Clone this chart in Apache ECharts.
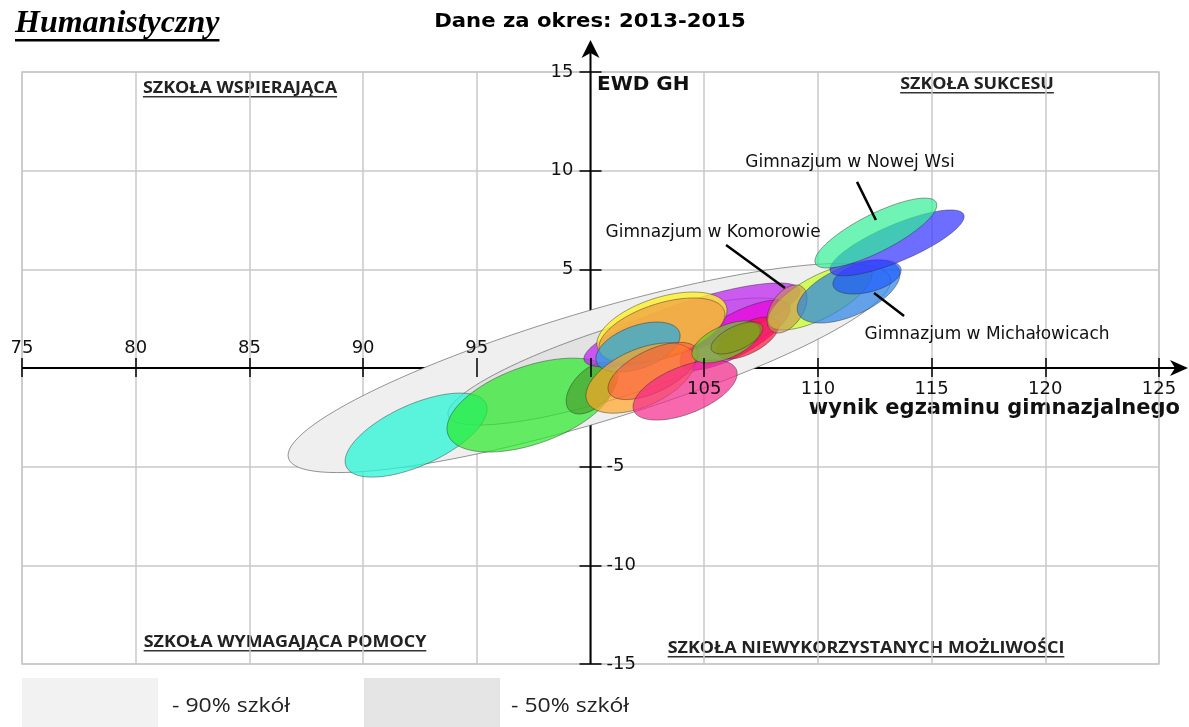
<!DOCTYPE html>
<html>
<head>
<meta charset="utf-8">
<title>Humanistyczny - EWD GH</title>
<script src="https://cdn.jsdelivr.net/npm/echarts@6/dist/echarts.min.js"></script>
<style>
  html, body { margin: 0; padding: 0; background: #fff; }
  #main { width: 1189px; height: 727px; }
</style>
</head>
<body>
<div id="main"></div>
<script>
// zakres osi
const xMin = 75, xMax = 125, xStep = 5;
const yMin = -15, yMax = 15, yStep = 5;
const crossX = 100; // oś EWD przecina oś wyników w 100

// elipsy (środek, promień w osi x, promień w osi y, korelacja)
const ellipseNames = [
  '90% szkół', '50% szkół',
  'e1', 'e2', 'e3', 'e4', 'e5', 'e6', 'e7', 'e8', 'e9', 'e10',
  'e11', 'e12', 'e13', 'e14', 'e15', 'Gimnazjum w Komorowie', 'Gimnazjum w Michałowicach',
  'e19', 'e20', 'Gimnazjum w Nowej Wsi'
];
const centerX = [99.95, 101.25, 92.33, 97.38, 100.07, 104.46, 106.35, 103.14, 103.14, 102.09, 102.20,
  102.75, 104.16, 106.93, 105.96, 106.44, 110.09, 108.64, 111.35, 112.16, 113.48, 112.55];
const centerY = [0.00, 0.33, -3.40, -1.88, -1.01, 2.18, 1.67, 2.08, 1.88, 1.06, -0.51,
  -0.15, -1.12, 1.52, 1.32, 1.52, 3.60, 2.99, 3.88, 4.61, 6.34, 6.84];
const radiusX = [13.25, 7.52, 3.12, 3.69, 1.14, 4.75, 2.42, 2.86, 2.77, 1.85, 2.40,
  1.98, 2.29, 1.36, 1.50, 1.14, 2.29, 0.88, 2.26, 1.50, 2.95, 2.68];
const radiusY = [5.30, 3.22, 2.13, 2.38, 1.32, 2.13, 1.77, 1.77, 1.67, 1.27, 1.78,
  1.45, 1.52, 1.06, 1.06, 0.81, 1.67, 1.22, 1.60, 0.86, 1.67, 1.77];
const corr = [0.835, 0.82, 0.62, 0.50, 0.50, 0.80, 0.75, 0.48, 0.50, 0.45, 0.50,
  0.60, 0.55, 0.60, 0.55, 0.60, 0.70, 0.45, 0.55, 0.40, 0.80, 0.80];

// kolory elips
const ellipseColors = [
  '#efefef', '#e2e2e2',
  'rgba(40,245,215,0.75)', 'rgba(40,235,40,0.7)', 'rgba(70,150,40,0.6)',
  'rgba(190,40,240,0.75)', 'rgba(235,0,220,0.7)', 'rgba(255,240,40,0.8)',
  'rgba(240,160,70,0.75)', 'rgba(30,170,230,0.7)', 'rgba(255,165,40,0.7)',
  'rgba(255,80,50,0.55)', 'rgba(245,40,140,0.7)', 'rgba(255,20,60,0.7)',
  'rgba(110,200,40,0.75)', 'rgba(130,150,20,0.6)', 'rgba(200,255,40,0.75)',
  'rgba(200,140,80,0.6)', 'rgba(40,130,230,0.7)', 'rgba(20,80,255,0.6)',
  'rgba(60,60,255,0.75)', 'rgba(50,240,150,0.7)'
];

// podpisy szkół i linie odniesienia
const noteNames = ['Gimnazjum w Nowej Wsi', 'Gimnazjum w Komorowie', 'Gimnazjum w Michałowicach'];
const noteLabelX = [111.41, 105.39, 117.44];
const noteLabelY = [10.39, 6.84, 1.67];
const noteFromX = [111.72, 105.96, 112.47];
const noteFromY = [9.43, 6.23, 3.80];
const noteToX = [112.55, 108.55, 113.79];
const noteToY = [7.50, 4.05, 2.64];

// legenda
const legendNames = ['- 90% szkół', '- 50% szkół'];

const gridBox = { left: 22, top: 72, width: 1137, height: 592 };

const chart = echarts.init(document.getElementById('main'));

const ellipseData = centerX.map((x, i) => [x, centerY[i], radiusX[i], radiusY[i], corr[i]]);
const noteData = noteNames.map((n, i) => [noteLabelX[i], noteLabelY[i], noteFromX[i], noteFromY[i], noteToX[i], noteToY[i]]);

const tickFont = { fontFamily: 'DejaVu Sans', fontSize: 18, color: '#111' };
const xOffset = -(0 - yMin) / (yMax - yMin) * gridBox.height;
const yOffset = -(crossX - xMin) / (xMax - xMin) * gridBox.width;

function baseX(extra) {
  return Object.assign({
    type: 'value', min: xMin, max: xMax, interval: xStep, gridIndex: 0,
    axisLine: { show: false }, splitLine: { show: false }
  }, extra);
}
function baseY(extra) {
  return Object.assign({
    type: 'value', min: yMin, max: yMax, interval: yStep, gridIndex: 0,
    axisLine: { show: false }, splitLine: { show: false }
  }, extra);
}

// pomiar szerokości tekstu (podkreślenia)
const mctx = document.createElement('canvas').getContext('2d');
function textWidth(text, font) {
  mctx.font = font;
  return mctx.measureText(text).width;
}

const quadFont = 'bold 16px "Open Sans"';
const quadScale = 1.12;
const quadLabels = [
  { text: 'SZKOŁA WSPIERAJĄCA', x: 240, y: 88 },
  { text: 'SZKOŁA SUKCESU', x: 977, y: 84 },
  { text: 'SZKOŁA WYMAGAJĄCA POMOCY', x: 285, y: 642 },
  { text: 'SZKOŁA NIEWYKORZYSTANYCH MOŻLIWOŚCI', x: 866, y: 648 }
];

const graphics = [];
const titleFont = 'italic bold 32px "Liberation Serif"';
graphics.push({
  type: 'text', left: 15, top: 8,
  style: { text: 'Humanistyczny', font: titleFont, fill: '#000' }
});
graphics.push({
  type: 'rect', shape: { x: 15, y: 39, width: textWidth('Humanistyczny', titleFont), height: 2.5 },
  style: { fill: '#000' }
});
graphics.push({
  type: 'text', x: 590, y: 22, scaleX: 1.06,
  style: { text: 'Dane za okres: 2013-2015', font: 'bold 20px "DejaVu Sans"', fill: '#000',
    textAlign: 'center', textVerticalAlign: 'middle' }
});
graphics.push({
  type: 'text', x: 597, y: 85,
  style: { text: 'EWD GH', font: 'bold 20px "DejaVu Sans"', fill: '#111', textVerticalAlign: 'middle' }
});
graphics.push({
  type: 'text', x: 1180, y: 409,
  style: { text: 'wynik egzaminu gimnazjalnego', font: 'bold 21px "DejaVu Sans"', fill: '#111',
    textAlign: 'right', textVerticalAlign: 'middle' }
});
quadLabels.forEach(q => {
  const w = textWidth(q.text, quadFont) * quadScale;
  graphics.push({
    type: 'text', x: q.x, y: q.y, scaleX: quadScale,
    style: { text: q.text, font: quadFont, fill: '#222', textAlign: 'center', textVerticalAlign: 'middle' }
  });
  graphics.push({
    type: 'rect', shape: { x: q.x - w / 2, y: q.y + 8, width: w, height: 1.5 },
    style: { fill: '#333' }
  });
});
// legenda
graphics.push({ type: 'rect', shape: { x: 22, y: 678, width: 136, height: 49 }, style: { fill: '#f2f2f2' } });
graphics.push({ type: 'rect', shape: { x: 364, y: 678, width: 136, height: 49 }, style: { fill: '#e5e5e5' } });
graphics.push({ type: 'text', x: 172, y: 706, scaleX: 1.15,
  style: { text: legendNames[0], font: '20px "Open Sans"', fill: '#222', textVerticalAlign: 'middle' } });
graphics.push({ type: 'text', x: 511, y: 706, scaleX: 1.15,
  style: { text: legendNames[1], font: '20px "Open Sans"', fill: '#222', textVerticalAlign: 'middle' } });

chart.setOption({
  animation: false,
  backgroundColor: '#fff',
  grid: Object.assign({ show: true, borderColor: '#c8c8c8', borderWidth: 1.5, outerBoundsMode: 'none' }, gridBox),
  xAxis: [
    baseX({ axisTick: { show: false }, axisLabel: { show: false },
      splitLine: { show: true, lineStyle: { color: '#c8c8c8', width: 1.5 } } }),
    baseX({ position: 'bottom', offset: xOffset, z: 5,
      axisTick: { show: true, length: 9, lineStyle: { color: '#000', width: 1.5 } },
      axisLabel: Object.assign({ margin: 12, formatter: v => (v > crossX ? String(v) : '') }, tickFont) }),
    baseX({ position: 'bottom', offset: xOffset, z: 5,
      axisTick: { show: true, inside: true, length: 10, lineStyle: { color: '#000', width: 1.5 } },
      axisLabel: Object.assign({ inside: true, margin: 11, formatter: v => (v < crossX ? String(v) : '') }, tickFont) })
  ],
  yAxis: [
    baseY({ axisTick: { show: false }, axisLabel: { show: false },
      splitLine: { show: true, lineStyle: { color: '#c8c8c8', width: 1.5 } } }),
    baseY({ position: 'left', offset: yOffset,
      axisTick: { show: true, length: 11, lineStyle: { color: '#000', width: 1.5 } },
      axisLabel: Object.assign({ margin: 17, formatter: v => (v > 0 ? String(v) : '') }, tickFont) }),
    baseY({ position: 'left', offset: yOffset,
      axisTick: { show: true, inside: true, length: 11, lineStyle: { color: '#000', width: 1.5 } },
      axisLabel: Object.assign({ inside: true, margin: 16, formatter: v => (v < 0 ? String(v) : '') }, tickFont) })
  ],
  graphic: graphics,
  series: [
    {
      // osie ze strzałkami
      type: 'custom', name: 'osie', z: 1, clip: false, silent: true,
      data: [[crossX, 0]],
      renderItem: function (params, api) {
        const l = api.coord([xMin, 0]);
        const r = api.coord([xMax, 0]);
        const b = api.coord([api.value(0), yMin]);
        const t = api.coord([api.value(0), yMax]);
        const xe = r[0] + 29, ye = t[1] - 32, yl = l[1], xl = b[0];
        const ls = { stroke: '#000', lineWidth: 2 };
        return {
          type: 'group', children: [
            { type: 'line', shape: { x1: l[0], y1: yl, x2: xe - 8, y2: yl }, style: ls },
            { type: 'line', shape: { x1: xl, y1: b[1], x2: xl, y2: ye + 8 }, style: ls },
            { type: 'polygon', shape: { points: [[xe, yl], [xe - 18, yl - 8], [xe - 13, yl], [xe - 18, yl + 8]] },
              style: { fill: '#000' } },
            { type: 'polygon', shape: { points: [[xl, ye], [xl - 9, ye + 18], [xl, ye + 13], [xl + 9, ye + 18]] },
              style: { fill: '#000' } }
          ]
        };
      }
    },
    {
      type: 'custom', name: 'elipsy', z: 2, silent: true,
      data: ellipseData,
      encode: { x: 0, y: 1 },
      renderItem: function (params, api) {
        const cx = api.value(0), cy = api.value(1), rx = api.value(2), ry = api.value(3), rho = api.value(4);
        const s = Math.sqrt(1 - rho * rho);
        const pts = [];
        for (let k = 0; k < 120; k++) {
          const a = k / 120 * Math.PI * 2;
          pts.push(api.coord([cx + rx * Math.cos(a), cy + ry * (rho * Math.cos(a) + s * Math.sin(a))]));
        }
        const gray = params.dataIndex < 2;
        return {
          type: 'polygon', shape: { points: pts },
          style: {
            fill: ellipseColors[params.dataIndex],
            stroke: gray ? 'rgba(90,90,90,0.8)' : 'rgba(40,40,40,0.55)',
            lineWidth: 0.8
          }
        };
      }
    },
    {
      type: 'custom', name: 'podpisy', z: 3, clip: false, silent: true,
      data: noteData,
      encode: { x: 0, y: 1 },
      renderItem: function (params, api) {
        const p = api.coord([api.value(0), api.value(1)]);
        const f = api.coord([api.value(2), api.value(3)]);
        const t = api.coord([api.value(4), api.value(5)]);
        return {
          type: 'group', children: [
            { type: 'line', shape: { x1: f[0], y1: f[1], x2: t[0], y2: t[1] },
              style: { stroke: '#000', lineWidth: 2.5 } },
            { type: 'text', x: p[0], y: p[1],
              style: { text: noteNames[params.dataIndex], font: '17px "DejaVu Sans"', fill: '#111',
                textAlign: 'center', textVerticalAlign: 'middle' } }
          ]
        };
      }
    }
  ]
});
</script>
</body>
</html>
